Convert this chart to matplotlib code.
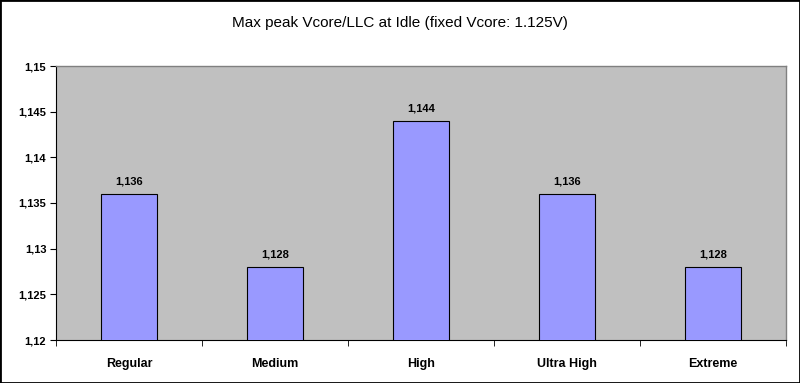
import matplotlib
matplotlib.use("Agg")
import matplotlib.pyplot as plt
from matplotlib.patches import Rectangle

categories = ["Regular", "Medium", "High", "Ultra High", "Extreme"]
values = [1.136, 1.128, 1.144, 1.136, 1.128]
yticks = [1.12, 1.125, 1.13, 1.135, 1.14, 1.145, 1.15]
title = "Max peak Vcore/LLC at Idle (fixed Vcore: 1.125V)"

plt.rcParams['font.family'] = ['Liberation Sans', 'DejaVu Sans']

fig = plt.figure(figsize=(8, 3.83), dpi=100)
fig.patch.set_facecolor("white")
fig.add_artist(Rectangle((0, 0), 1, 1, transform=fig.transFigure, fill=False,
                         edgecolor="black", linewidth=2))

W, H = 800, 383
left, right, top, bottom = 56, 786, 66, 340
ax = fig.add_axes([left / W, 1 - bottom / H, (right - left) / W, (bottom - top) / H])
ax.set_facecolor("#C0C0C0")

x = list(range(len(categories)))
ax.bar(x, values, width=0.39, color="#9999FF", edgecolor="black", linewidth=0.8, zorder=3)
for xi, v in zip(x, values):
    ax.text(xi, v + 0.0008, f"{v:.3f}".replace(".", ","), ha="center", va="bottom",
            fontsize=8, fontweight="bold", zorder=4)

ax.set_xlim(-0.5, len(categories) - 0.5)
ax.set_ylim(1.12, 1.15)
ax.set_yticks(yticks)
ax.set_yticklabels([f"{t:g}".replace(".", ",") for t in yticks], fontsize=8, fontweight="bold")
ax.set_xticks(x)
ax.set_xticklabels(categories, fontsize=9, fontweight="bold")
ax.tick_params(axis="x", length=0, pad=13)
ax.set_xticks([i + 0.5 for i in range(-1, len(categories))], minor=True)
ax.tick_params(axis="x", which="minor", length=4, direction="out", color="black")
ax.tick_params(axis="y", length=4, direction="out", pad=3)

for s in ["top", "right"]:
    ax.spines[s].set_color("#808080")
    ax.spines[s].set_linewidth(1)
for s in ["left", "bottom"]:
    ax.spines[s].set_color("black")
    ax.spines[s].set_linewidth(0.8)

fig.text(0.5, 1 - 23 / H, title, ha="center", va="center", fontsize=11)

fig.savefig("out.png", dpi=100)
